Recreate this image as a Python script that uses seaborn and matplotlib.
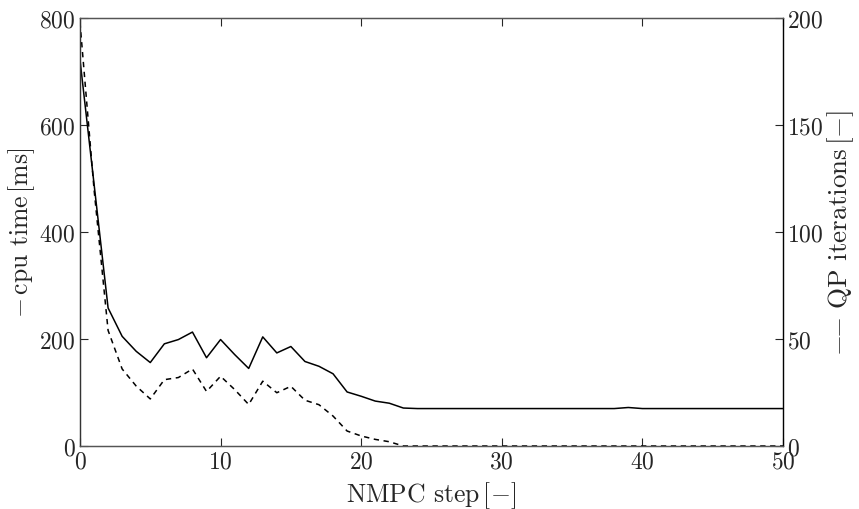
import numpy as np
import pandas as pd
import matplotlib
matplotlib.use("Agg")
import matplotlib.pyplot as plt
import seaborn as sns

steps = list(range(0, 51))
cpu_time = [722, 490, 258, 205, 177, 156, 191, 199, 213, 165, 199, 171, 145, 204, 174, 186,
            158, 149, 135, 101, 93, 84, 80, 71] + [70] * 15 + [72] + [70] * 11
qp_iter = [198, 120, 54, 36, 28, 22, 31, 32, 36, 25.5, 32.6, 26.4, 19.4, 30.3, 24.9, 27.9,
           21.4, 19.3, 14, 7, 4.7, 3.1, 2] + [0] * 28

df = pd.DataFrame({"step": steps, "cpu": cpu_time, "qp": qp_iter})

sns.set_style("ticks")
plt.rcParams.update({
    "font.family": "serif",
    "font.serif": ["cmr10", "DejaVu Serif"],
    "mathtext.fontset": "cm",
    "axes.formatter.use_mathtext": True,
    "axes.unicode_minus": True,
    "xtick.direction": "in",
    "ytick.direction": "in",
})

fig = plt.figure(figsize=(8.59, 5.10), dpi=100)
ax = fig.add_axes([0.0931, 0.1235, 0.8184, 0.8392])
ax2 = ax.twinx()

sns.lineplot(data=df, x="step", y="cpu", ax=ax, color="black", linewidth=1.1)
sns.lineplot(data=df, x="step", y="qp", ax=ax2, color="black", linewidth=1.1,
             linestyle=(0, (3.5, 3)))

ax.set_xlim(0, 50)
ax.set_ylim(0, 800)
ax2.set_ylim(0, 200)
ax.set_xticks([0, 10, 20, 30, 40, 50])
ax.set_yticks([0, 200, 400, 600, 800])
ax2.set_yticks([0, 50, 100, 150, 200])

fs = 17
lfs = 18.5
ax.tick_params(axis="both", labelsize=fs, length=6, width=0.8, top=True, pad=3)
ax2.tick_params(axis="y", labelsize=fs, length=6, width=0.8, pad=3)
ax.tick_params(axis="y", pad=3)

ax.set_xlabel(r"NMPC step$\,[-]$", fontsize=lfs, labelpad=5)
ax.set_ylabel(r"$-\,$cpu time$\,$[ms]", fontsize=lfs, labelpad=2)
ax2.set_ylabel(r"$-\!\!\:-\ $QP iterations$\,[-]$", fontsize=lfs + 1, labelpad=1)

for a in (ax, ax2):
    for name, s in a.spines.items():
        s.set_linewidth(0.9)
        s.set_color("#555555")
ax2.spines["right"].set_color("black")
ax2.spines["left"].set_color("#333333")

fig.savefig("out.png", dpi=100)
